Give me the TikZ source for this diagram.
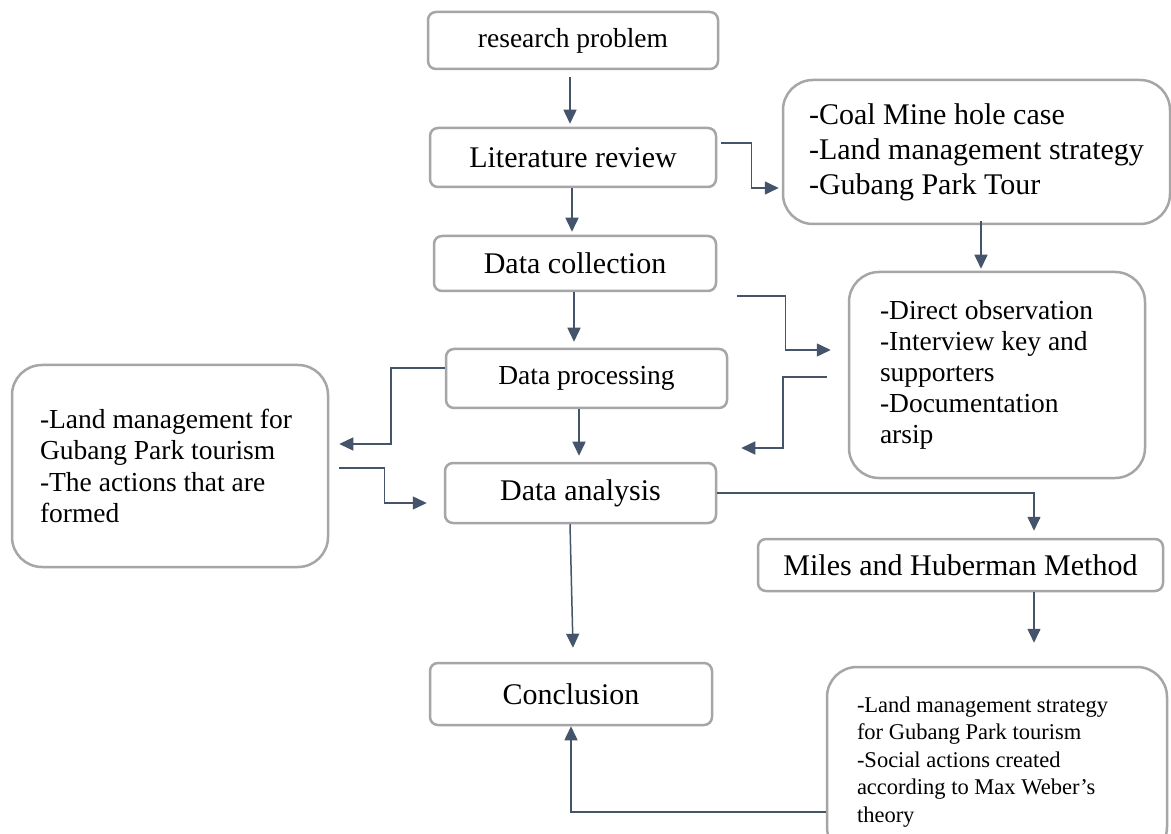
\documentclass[tikz,border=0pt]{standalone}
\usepackage{fontspec}
\setmainfont{Liberation Serif}
\usetikzlibrary{arrows.meta}
\definecolor{arrc}{HTML}{44546A}
\definecolor{boxc}{HTML}{A6A6A6}
\newcommand\fszA{\fontsize{30}{35}\selectfont}
\newcommand\fszB{\fontsize{27.5}{31}\selectfont}
\newcommand\fszC{\fontsize{22.5}{27.5}\selectfont}
\tikzset{
  sbox/.style={draw=boxc, line width=2.5pt, rounded corners=8pt, inner sep=0pt, fill=white, align=center},
  lbox/.style={draw=boxc, line width=2.5pt, rounded corners=30pt, inner sep=0pt, fill=white, align=flush left},
  arr/.style={draw=arrc, line width=1.5pt, -{Triangle[length=14pt,width=13pt]}}
}
\begin{document}
\begin{tikzpicture}[x=1pt,y=-1pt]
\clip (0,0) rectangle (1171,834);
\fill[white] (0,0) rectangle (1171,834);

% small boxes
\node[sbox, minimum width=290, minimum height=57, font=\fszB] (rp) at (573,40.5) {research problem};
\node[sbox, minimum width=286, minimum height=59, font=\fszA] (lit) at (573,157.5) {Literature review};
\node[sbox, minimum width=282, minimum height=55, font=\fszA] (dc) at (575,263.5) {Data collection};
\node[sbox, minimum width=281, minimum height=59, font=\fszB] (dp) at (586.5,378.5) {Data processing};
\node[sbox, minimum width=271, minimum height=60, font=\fszA] (da) at (580.5,493) {Data analysis};
\node[sbox, minimum width=282, minimum height=62, font=\fszA] (conc) at (571,694) {Conclusion};
\node[sbox, minimum width=405, minimum height=52, font=\fszA] (mil) at (960.5,565) {Miles and Huberman Method};

% large boxes
\node[lbox, minimum width=387, minimum height=144, font=\fszA] (coal) at (976.5,152)
  {-Coal Mine hole case\\-Land management strategy\\-Gubang Park Tour};
\node[lbox, minimum width=296, minimum height=206, text width=234, font=\fszB] (dobs) at (997,375)
  {-Direct observation\\-Interview key and\\supporters\\-Documentation\\arsip};
\node[lbox, minimum width=316, minimum height=202, text width=260, font=\fontsize{27.5}{31.5}\selectfont] (lft) at (170,466)
  {-Land management for\\Gubang Park tourism\\-The actions that are\\formed};
\node[lbox, minimum width=340, minimum height=190, text width=280, font=\fszC] (fin) at (997,762)
  {-Land management strategy\\for Gubang Park tourism\\-Social actions created\\according to Max Weber’s\\theory};

% connectors
\draw[arr] ([xshift=-3pt,yshift=-7pt]rp.south) -- ([xshift=-3pt,yshift=3pt]lit.north);
\draw[arr] ([xshift=4pt,yshift=14.5pt]lit.east) -- ++(30,0) |- ([xshift=-3pt,yshift=-36pt]coal.west);
\draw[arr] ([xshift=-1pt]lit.south) -- ([xshift=-3pt,yshift=3pt]dc.north);
\draw[arr] ([xshift=4.5pt,yshift=4pt]coal.south) -- ([xshift=-16pt,yshift=2pt]dobs.north);
\draw[arr] ([xshift=20pt,yshift=-32.5pt]dc.east) -- ++(48,0) |- ([xshift=-17pt,yshift=25pt]dobs.west);
\draw[arr] ([xshift=-1pt]dc.south) -- ([xshift=-12.5pt,yshift=6pt]dp.north);
\draw[arr] ([yshift=10.5pt]dp.west) -- ++(-54,0) |- ([xshift=10pt,yshift=22pt]lft.east);
\draw[arr] ([xshift=10pt,yshift=-2pt]lft.east) -- ++(45,0) |- ([xshift=-17pt,yshift=-10pt]da.west);
\draw[arr] ([xshift=-21pt,yshift=-2pt]dobs.west) -- ++(-44,0) |- ([xshift=24pt,yshift=45pt]da.east);
\draw[arr] ([xshift=-7.5pt]dp.south) -- ([xshift=-1.5pt,yshift=6pt]da.north);
\draw[arr] (da.east) -| ([xshift=73.5pt,yshift=7pt]mil.north);
\draw[arr] ([xshift=73.5pt]mil.south) -- ([xshift=37pt,yshift=23pt]fin.north);
\draw[arr] ([xshift=-10.5pt]da.south) -- ([xshift=2pt,yshift=14pt]conc.north);
\draw[arr] ([yshift=-50pt]fin.west) -| (conc.south);
\end{tikzpicture}
\end{document}
